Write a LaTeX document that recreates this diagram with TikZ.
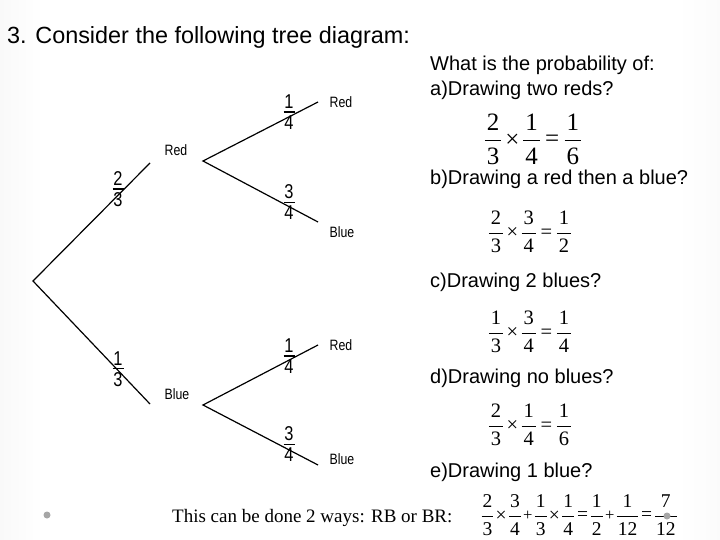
\documentclass[tikz,border=0pt]{standalone}
\usepackage{amsmath}
\usepackage{graphicx}
\usepackage{fontspec}
\setmainfont{Liberation Serif}
\setsansfont{Liberation Sans}
\newfontfamily\narrowsf[FakeStretch=0.82]{Liberation Sans}
\newcommand\treefrac[2]{%
  \vbox{\offinterlineskip
    \halign{\hfil##\hfil\cr
      \narrowsf #1\cr
      \noalign{\kern3pt}
      \vrule width 11pt height 1.2pt\cr
      \noalign{\kern3pt}
      \narrowsf #2\cr}}}
\newcommand\fr[2]{\dfrac{\kern2pt\text{#1}\kern2pt}{\kern2pt\text{#2}\kern2pt}}
\newcommand\frs[2]{\dfrac{\kern1pt\text{#1}\kern1pt}{\kern1pt\text{#2}\kern1pt}}
\newcommand\tm{\mkern2mu\vcenter{\hbox{×}}\mkern2mu}
\newcommand\tms{\mkern1mu\vcenter{\hbox{×}}\mkern1mu}
\newcommand\eqs{\mkern3mu\vcenter{\hbox{=}}\mkern3mu}
\newcommand\eqss{\mkern1.5mu\vcenter{\hbox{=}}\mkern1.5mu}
\newcommand\pls{\mkern1mu\vcenter{\hbox{\scalebox{0.85}{+}}}\mkern1mu}
\pgfdeclarehorizontalshading{slidebg}{100bp}{color(0bp)=(black!22); color(28bp)=(white); color(72bp)=(white); color(100bp)=(black!14)}
\begin{document}
\begin{tikzpicture}[x=1pt,y=-1pt,
  branch/.style={line width=1.2pt,black},
  lbl/.style={font=\narrowsf\fontsize{15}{17}\selectfont,inner sep=0pt},
  tfr/.style={font=\fontsize{20}{22}\selectfont,inner sep=0pt},
  qtext/.style={font=\sffamily\fontsize{20}{24}\selectfont,anchor=west,inner sep=0pt},
  eqn/.style={font=\fontsize{20.5}{24}\selectfont,inner sep=0pt},
  dotmark/.style={circle,fill=gray!70,inner sep=0pt,minimum size=7pt}]
\useasboundingbox (0,0) rectangle (720,540);
\shade[shading=slidebg] (0,0) rectangle (720,540);
% title
\node[font=\sffamily\fontsize{23.4}{26}\selectfont,anchor=west,inner sep=0pt] (title) at (7,37) {3. Consider the following tree diagram:};
% tree
\coordinate (root) at (33,281);
\coordinate (e1) at (150,163);
\node[lbl] (red1) at (176,150) {Red};
\coordinate (b1) at (203,161);
\coordinate (e11) at (318,102);
\node[lbl] (red11) at (341,102) {Red};
\coordinate (e12) at (318,222);
\node[lbl] (blue12) at (342,232) {Blue};
\coordinate (e2) at (150,404);
\node[lbl] (blue2) at (177,394) {Blue};
\coordinate (b2) at (203,405);
\coordinate (e21) at (318,345);
\node[lbl] (red21) at (341,345) {Red};
\coordinate (e22) at (318,465);
\node[lbl] (blue22) at (342,459) {Blue};
\draw[branch] (e1) -- (root) -- (e2);
\draw[branch] (e11) -- (b1) -- (e12);
\draw[branch] (e21) -- (b2) -- (e22);
\node[tfr] (f1) at (118,189) {\treefrac{2}{3}};
\node[tfr] (f2) at (118,369) {\treefrac{1}{3}};
\node[tfr] (f11) at (289,112) {\treefrac{1}{4}};
\node[tfr] (f12) at (289,202) {\treefrac{3}{4}};
\node[tfr] (f21) at (289,356) {\treefrac{1}{4}};
\node[tfr] (f22) at (289,444) {\treefrac{3}{4}};
% questions
\node[qtext] (q0) at (430,65) {What is the probability of:};
\node[qtext] (qa) at (430,90) {a)Drawing two reds?};
\node[eqn,font=\fontsize{25}{30}\selectfont] (ea) at (533,139) {$\fr{2}{3}\tm\fr{1}{4}\eqs\fr{1}{6}$};
\node[qtext] (qb) at (430,179) {b)Drawing a red then a blue?};
\node[eqn] (eb) at (530,232) {$\fr{2}{3}\tm\fr{3}{4}\eqs\fr{1}{2}$};
\node[qtext] (qc) at (430,282) {c)Drawing 2 blues?};
\node[eqn] (ec) at (530,332) {$\fr{1}{3}\tm\fr{3}{4}\eqs\fr{1}{4}$};
\node[qtext] (qd) at (430,378) {d)Drawing no blues?};
\node[eqn] (ed) at (530,425) {$\fr{2}{3}\tm\fr{1}{4}\eqs\fr{1}{6}$};
\node[qtext] (qe) at (430,472) {e)Drawing 1 blue?};
\node[eqn,font=\fontsize{19.5}{24}\selectfont,anchor=east] (ee) at (678,515) {$\frs{2}{3}\tms\frs{3}{4}\pls\frs{1}{3}\tms\frs{1}{4}\eqss\frs{1}{2}\pls\frs{1}{12}\eqss\frs{7}{12}$};
\node[font=\fontsize{19}{22}\selectfont,anchor=west,inner sep=0pt] (note) at (172,518) {This can be done 2 ways: RB or BR:};
\node[dotmark] (dot1) at (47,515) {};
\node[dotmark] (dot2) at (667,516) {};
\end{tikzpicture}
\end{document}
